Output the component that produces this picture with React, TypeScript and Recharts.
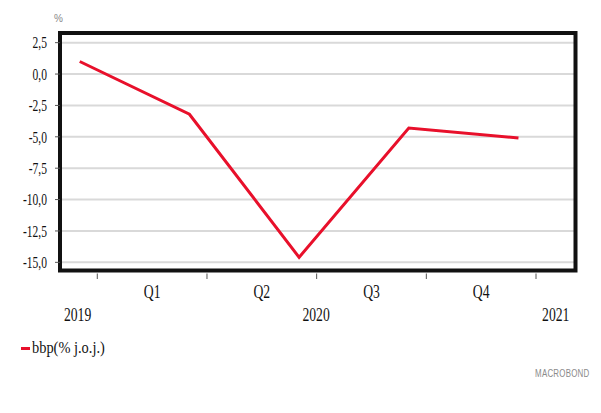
import React from "react";
import { LineChart, Line, XAxis, YAxis, CartesianGrid, ReferenceArea } from "recharts";

// ---- data ----
const periods = ["2019 K4", "2020 K1", "2020 K2", "2020 K3", "2020 K4"];
const bbpValues = [1.0, -3.2, -14.6, -4.3, -5.1];
const seriesName = "bbp(% j.o.j.)";
const yTicks = [2.5, 0, -2.5, -5, -7.5, -10, -12.5, -15];
const quarterLabels = ["Q1", "Q2", "Q3", "Q4"];
const yearLabels = ["2019", "2020", "2021"];
// axis positions in quarter units (0 = first period)
const quarterBoundaryTicks = [0.16, 1.16, 2.16, 3.16, 4.16];
const quarterLabelTicks = [0.66, 1.66, 2.66, 3.66];
const yearLabelTicks = [-0.02, 2.155, 4.34];
const xDomain: [number, number] = [-0.18, 4.52];
const yDomain: [number, number] = [-15.65, 3.27];

const data = periods.map((p, i) => ({ period: p, t: i, value: bbpValues[i] }));
const allXTicks = [...quarterBoundaryTicks, ...quarterLabelTicks, ...yearLabelTicks].sort((a, b) => a - b);

const FONT = "'Liberation Serif', 'Times New Roman', Times, serif";
const fmt = (v: number) => v.toFixed(1).replace(".", ",");

const YTick = (props: any) => {
  const { x, y, payload } = props;
  return (
    <g transform={`translate(${x},${y})`}>
      <text transform="scale(0.72,1)" textAnchor="end" dy="0.36em" fontSize={16} fontFamily={FONT} fill="#111">
        {fmt(payload.value)}
      </text>
    </g>
  );
};

const XTick = (props: any) => {
  const { x, y, payload } = props;
  const v = payload.value;
  const bi = quarterBoundaryTicks.indexOf(v);
  if (bi >= 0) {
    return <line x1={x} x2={x} y1={y + 3} y2={y + 8.5} stroke="#555" strokeWidth={1} />;
  }
  const qi = quarterLabelTicks.indexOf(v);
  const yi = yearLabelTicks.indexOf(v);
  const label = qi >= 0 ? quarterLabels[qi] : yi >= 0 ? yearLabels[yi] : "";
  const dy = qi >= 0 ? 27.5 : 50.5;
  return (
    <g transform={`translate(${x},${y + dy})`}>
      <text transform="scale(0.76,1)" textAnchor="middle" fontSize={18} fontFamily={FONT} fill="#111">
        {label}
      </text>
    </g>
  );
};

export default function App() {
  return (
    <div style={{ position: "absolute", left: 0, top: 0, width: 601, height: 413, background: "#fff" }}>
      <LineChart
        width={601}
        height={413}
        data={data}
        margin={{ top: 33, right: 25.5, left: 0, bottom: 82.5 }}
      >
        <CartesianGrid vertical={false} stroke="#d9d9d9" strokeWidth={2} />
        <XAxis
          xAxisId="t"
          dataKey="t"
          type="number"
          domain={xDomain}
          allowDataOverflow
          ticks={allXTicks}
          interval={0}
          tick={XTick}
          axisLine={false}
          tickLine={false}
          tickSize={0}
          tickMargin={0}
          height={60}
        />
        <YAxis
          type="number"
          domain={yDomain}
          allowDataOverflow
          ticks={yTicks}
          interval={0}
          width={60}
          axisLine={false}
          tickLine={{ stroke: "#555", strokeWidth: 1 }}
          tickSize={5}
          tickMargin={8}
          tick={YTick}
        />
        <Line
          xAxisId="t"
          dataKey="value"
          type="linear"
          stroke="#e8102b"
          strokeWidth={3}
          dot={false}
          activeDot={false}
          isAnimationActive={false}
        />
        <ReferenceArea
          xAxisId="t"
          x1={xDomain[0]}
          x2={xDomain[1]}
          y1={yDomain[0]}
          y2={yDomain[1]}
          fill="none"
          stroke="#111"
          strokeWidth={4}
          ifOverflow="visible"
        />
      </LineChart>
      <div
        style={{
          position: "absolute",
          left: 54,
          top: 13,
          fontFamily: "'Liberation Sans', sans-serif",
          fontSize: 10,
          color: "#888",
        }}
      >
        %
      </div>
      <div style={{ position: "absolute", left: 21, top: 338, display: "flex", alignItems: "center" }}>
        <div style={{ width: 9, height: 3, background: "#e8102b" }} />
        <div
          style={{
            fontFamily: FONT,
            fontSize: 16,
            color: "#111",
            transform: "scaleX(0.9)",
            transformOrigin: "left center",
            marginLeft: 2,
            whiteSpace: "nowrap",
            lineHeight: "20px",
          }}
        >
          {seriesName}
        </div>
      </div>
      <div
        style={{
          position: "absolute",
          right: 12,
          top: 367,
          fontFamily: "'Liberation Sans', sans-serif",
          fontSize: 11,
          color: "#8a8a8a",
          letterSpacing: 0.3,
          transform: "scaleX(0.72)",
          transformOrigin: "right center",
          whiteSpace: "nowrap",
        }}
      >
        MACROBOND
      </div>
    </div>
  );
}
